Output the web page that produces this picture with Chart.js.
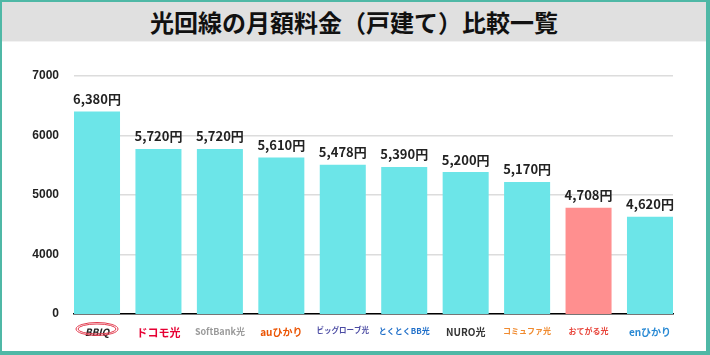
<!DOCTYPE html>
<html><head><meta charset="utf-8">
<script src="https://cdn.jsdelivr.net/npm/chart.js@4.4.0/dist/chart.umd.min.js"></script>
<style>
html,body{margin:0;padding:0;background:#fff;}
#frame{position:absolute;left:0;top:0;width:710px;height:355px;box-sizing:border-box;border-style:solid;border-color:#4fb8a6;border-width:2px 4px 4px 2px;background:#fff;overflow:hidden;}
#head{height:39px;background:#e0e0e0;border-bottom:1px solid #f2f2f2;display:flex;align-items:center;justify-content:center;font-family:"Noto Sans CJK JP";font-weight:bold;font-size:24px;color:#111;line-height:1;}
#wrap{position:absolute;left:0;top:40px;width:704px;height:309px;}
</style>
</head><body>
<div id="frame">
  <div id="head">光回線の月額料金（戸建て）比較一覧</div>
  <div id="wrap"><canvas id="c" width="704" height="309"></canvas></div>
</div>
<script>
// ---- data ----
const categories = ['BBIQ','ドコモ光','SoftBank光','auひかり','ビッグローブ光','とくとくBB光','NURO光','コミュファ光','おてがる光','enひかり'];
const barValues = [6405, 5775, 5775, 5630, 5510, 5470, 5385, 5220, 4785, 4635];
const priceLabels = ['6,380円','5,720円','5,720円','5,610円','5,478円','5,390円','5,200円','5,170円','4,708円','4,620円'];
const yTickLabels = ['0','4000','5000','6000','7000'];
const highlighted = 'おてがる光';

// ---- styles ----
const CYAN = '#6ce5e8', PINK = '#ff8f8f';
const xLabelStyle = [
  {color:'#222', size:10, style:'italic'},
  {color:'#e60033', size:11},
  {color:'#9a9a9a', size:9},
  {color:'#eb5505', size:10},
  {color:'#4b4ba3', size:7.5},
  {color:'#1f6fc9', size:8},
  {color:'#333333', size:10},
  {color:'#f08a2e', size:8},
  {color:'#e8463c', size:8},
  {color:'#2a8ad4', size:10}
];
const styleAt = c => xLabelStyle[c && c.index != null ? c.index : 0] || xLabelStyle[0];

const valueLabelPlugin = {
  id:'valueLabels',
  afterDatasetsDraw(chart){
    const ctx = chart.ctx;
    const meta = chart.getDatasetMeta(0);
    ctx.save();
    ctx.font = 'bold 13px "Noto Sans CJK JP"';
    ctx.fillStyle = '#222';
    ctx.textAlign = 'center';
    ctx.textBaseline = 'middle';
    meta.data.forEach((bar, i) => ctx.fillText(priceLabels[i], bar.x, bar.y - 12.5));
    ctx.restore();
  }
};
const ovalPlugin = {
  id:'bbiqOval',
  afterDraw(chart){
    const ctx = chart.ctx, xs = chart.scales.x;
    const cx = xs.getPixelForValue(0), cy = chart.chartArea.bottom + 15;
    ctx.save();
    ctx.strokeStyle = '#e23b4e';
    ctx.lineWidth = 1;
    ctx.beginPath(); ctx.ellipse(cx, cy, 21, 6.5, 0, 0, Math.PI*2); ctx.stroke();
    ctx.beginPath(); ctx.ellipse(cx, cy, 19, 5, 0, 0, Math.PI*2); ctx.stroke();
    ctx.restore();
  }
};

new Chart(document.getElementById('c'), {
  type:'bar',
  data:{
    datasets:[{
      data: barValues.map((v,i)=>({x:i, y:v})),
      backgroundColor: c => categories[c.dataIndex] === highlighted ? PINK : CYAN,
      borderWidth:0,
      barPercentage:0.749,
      categoryPercentage:1
    }]
  },
  options:{
    responsive:false,
    animation:false,
    layout:{padding:{top:34,right:33,bottom:0,left:0}},
    plugins:{legend:{display:false}, tooltip:{enabled:false}, title:{display:false}},
    scales:{
      x:{
        type:'linear',
        offset:false,
        bounds:'data',
        min:-0.3745, max:9.3745,
        afterBuildTicks: s => { s.ticks = categories.map((_, i) => ({value:i})); },
        afterFit: s => { s.height = 37; },
        grid:{display:false},
        border:{display:true, color:'#000', width:1.5},
        ticks:{
          autoSkip:false, maxRotation:0, padding:4,
          callback: v => categories[v],
          color: c => styleAt(c).color,
          font: c => ({family:'"Noto Sans CJK JP"', size:styleAt(c).size, weight:'bold', style:styleAt(c).style || 'normal'})
        }
      },
      y:{
        min:3000, max:7000,
        afterFit: s => { s.width = 72; },
        grid:{color:'#dcdcdc', lineWidth:1.5, drawTicks:false},
        border:{display:false},
        ticks:{
          stepSize:1000, padding:15,
          callback: (v, i) => yTickLabels[i],
          color:'#222',
          font:{family:'"Liberation Sans"', size:12, weight:'bold'}
        }
      }
    }
  },
  plugins:[valueLabelPlugin, ovalPlugin]
});
</script>
</body></html>
